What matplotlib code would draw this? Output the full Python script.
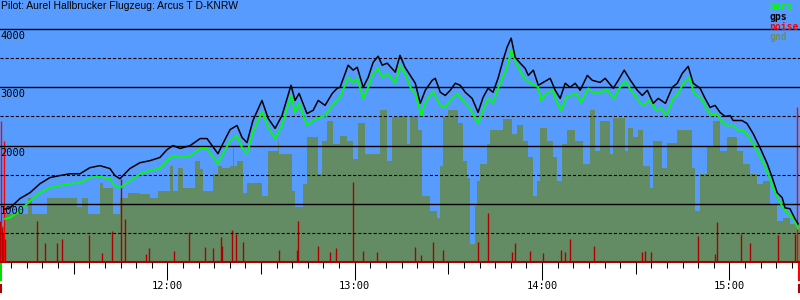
import numpy as np
import matplotlib.pyplot as plt

# Zeit in Minuten nach 11:00, Hoehe in m
gps_min = [8.0, 9.6, 12.8, 16.0, 19.2, 22.4, 25.6, 28.8, 32.0, 35.2, 38.4, 41.6, 43.2, 44.8, 48.0, 51.2, 54.4, 57.6, 59.9, 61.8,
           64.1, 67.3, 70.5, 72.7, 74.3, 76.2, 77.8, 80.1, 82.3, 83.9, 85.5, 87.4, 90.3, 92.3, 94.5, 96.7, 99.6, 100.9, 102.2, 104.7,
           106.7, 108.3, 110.5, 112.8, 114.4, 115.3, 117.9, 119.5, 120.8, 122.7, 124.3, 125.9, 127.5, 128.8, 130.4, 133.0, 134.5, 136.1,
           137.8, 139.4, 141.0, 142.6, 144.8, 145.8, 147.4, 149.0, 150.6, 152.2, 153.8, 155.4, 157.6, 159.5, 161.1, 162.7, 164.3, 165.9,
           167.5, 168.8, 170.1, 171.4, 173.0, 174.6, 175.6, 177.2, 178.8, 180.4, 182.6, 184.2, 185.8, 187.4, 189.0, 190.6, 192.2, 194.5,
           196.1, 198.6, 200.2, 202.8, 204.4, 206.3, 208.3, 210.5, 212.1, 213.7, 215.6, 217.2, 219.5, 221.7, 223.3, 224.9, 226.8, 228.4,
           230.6, 232.2, 233.8, 235.4, 237.0, 238.6, 240.2, 241.2, 244.0, 245.6, 247.6, 249.8, 252.1, 253.7, 255.3, 256.9, 257.8, 259.4,
           261.0, 262.0]
gps_alt = [910, 930, 1090, 1190, 1345, 1450, 1485, 1515, 1515, 1620, 1655, 1605, 1485, 1430, 1605, 1705, 1740, 1795, 1930, 2000,
           1950, 2000, 2120, 2120, 2000, 1860, 2035, 2275, 2345, 2140, 2050, 2430, 2775, 2465, 2295, 2515, 3035, 2775, 2895, 2550,
           2605, 2775, 2690, 2895, 2985, 3000, 3380, 3295, 3345, 3000, 3170, 3430, 3535, 3380, 3415, 3260, 3550, 3345,
           3205, 3070, 2725, 2950, 3120, 3155, 2915, 2860, 2950, 3070, 3035, 2915, 2810, 2570, 2825, 2985, 2915, 3155,
           3465, 3690, 3845, 3515, 3415, 3325, 3205, 3295, 3035, 3085, 3155, 2950, 2810, 3070, 3000, 3070, 2950, 3205,
           3120, 3085, 3155, 2985, 3120, 3295, 3120, 2950, 2860, 2950, 2725, 2810, 2725, 3000, 3070, 3240, 3360, 3070,
           2985, 2810, 2655, 2690, 2570, 2500, 2515, 2430, 2430, 2380, 2205, 1965, 1690, 1450, 1190, 1105, 930, 915,
           740, 655]

baro_min = [8.0, 9.6, 12.8, 16.0, 19.2, 22.4, 25.6, 28.8, 32.0, 35.2, 38.4, 41.6, 43.2, 44.8, 48.0, 51.2, 54.4, 57.6, 59.9, 61.8,
            64.1, 67.3, 70.5, 72.7, 74.3, 76.2, 77.8, 80.1, 82.3, 83.9, 85.5, 87.4, 90.3, 92.3, 94.5, 96.7, 99.6, 100.9, 102.2, 104.7,
            106.7, 109.0, 110.5, 112.8, 115.3, 117.9, 119.5, 120.8, 122.7, 124.3, 125.9, 127.5, 128.8, 130.4, 133.0, 134.5, 136.1, 137.8,
            139.4, 141.3, 142.6, 145.1, 147.4, 149.0, 150.6, 152.8, 154.7, 156.9, 159.5, 161.1, 162.7, 164.3, 165.9, 168.5, 170.1, 171.7,
            173.3, 174.9, 176.5, 178.8, 179.7, 181.3, 183.5, 184.5, 186.1, 187.7, 189.3, 190.9, 192.5, 194.8, 196.4, 199.0, 200.6, 203.1,
            204.7, 206.6, 208.5, 210.8, 212.4, 214.3, 216.6, 218.2, 219.8, 222.0, 223.6, 225.2, 227.1, 228.7, 231.0, 232.6, 234.2, 235.8,
            237.4, 239.0, 241.2, 242.8, 244.4, 246.0, 247.9, 250.2, 252.4, 254.0, 255.6, 257.2, 258.8, 260.4, 262.0]
baro_alt = [740, 760, 880, 1050, 1190, 1275, 1310, 1345, 1360, 1450, 1465, 1430, 1310, 1275, 1395, 1515, 1570, 1605, 1740, 1825,
            1795, 1825, 1950, 1950, 1825, 1690, 1860, 2085, 2170, 1965, 1860, 2225, 2585, 2310, 2120, 2345, 2860, 2570, 2725, 2345,
            2430, 2485, 2515, 2690, 2825, 3170, 3085, 3155, 2810, 3000, 3240, 3325, 3170, 3240, 3070, 3380, 3240, 3000,
            2895, 2515, 2740, 2930, 2690, 2655, 2775, 2895, 2775, 2640, 2380, 2605, 2810, 2725, 2985, 3295, 3640, 3415,
            3240, 3120, 3070, 3000, 2775, 2895, 2950, 2775, 2605, 2825, 2860, 2895, 2740, 2985, 2895, 2915, 2965, 2810,
            2985, 3105, 2950, 2775, 2690, 2775, 2605, 2640, 2515, 2810, 2895, 3070, 3170, 2895, 2810, 2640, 2515, 2550,
            2430, 2345, 2345, 2260, 2260, 2170, 2000, 1775, 1515, 1275, 1085, 930, 830, 760, 570]

gnd_min = [6.4, 8.0, 15.4, 16.6, 21.5, 31.1, 32.7, 34.6, 38.4, 39.4, 42.6, 44.8, 47.4, 51.2, 54.4, 57.0, 60.9, 61.8, 63.4, 65.0,
           68.9, 70.5, 71.4, 74.6, 76.2, 77.5, 80.1, 81.0, 81.4, 82.3, 84.2, 85.5, 90.3, 92.2, 95.4, 95.8, 99.9, 100.9, 103.5, 104.7,
           108.3, 109.5, 111.1, 113.1, 115.3, 117.5, 119.5, 121.1, 123.3, 128.1, 130.4, 132.0, 134.5, 136.8, 137.7, 140.3, 141.6, 144.1,
           146.4, 147.3, 148.3, 149.9, 153.1, 154.7, 156.0, 156.9, 158.5, 159.2, 160.1, 162.4, 163.3, 167.5, 170.4, 172.0, 173.9, 175.5,
           177.1, 178.4, 179.4, 181.6, 183.5, 184.8, 186.4, 188.0, 190.6, 193.1, 195.4, 197.0, 198.6, 201.8, 202.7, 206.6, 207.5, 209.2,
           210.8, 212.4, 214.6, 215.6, 218.4, 220.0, 223.2, 228.0, 229.0, 230.6, 232.9, 234.8, 237.0, 239.3, 242.5, 244.4, 246.6, 248.9,
           250.8, 253.0, 255.3, 257.2, 259.4, 261.7]
gnd_alt = [620, 830, 1105, 830, 1105, 950, 1105, 830, 1360, 1275, 830, 1105, 1190, 1170, 1105, 1225, 1655, 1225, 1620, 1275,
           1740, 1605, 1225, 1515, 1655, 1620, 1655, 1965, 1655, 1740, 1190, 1360, 1140, 1915, 2085, 1860, 1225, 950, 1345, 2140,
           1515, 2085, 2430, 2035, 2170, 2085, 1775, 2380, 1860, 2605, 1740, 2485, 2515, 2035, 2485, 2260, 1140, 880,
           760, 1655, 2485, 2605, 2380, 1740, 1450, 310, 965, 1395, 1690, 2035, 2260, 2450, 2205, 2345, 2085, 1795,
           1140, 1395, 2310, 2085, 1795, 1395, 2035, 2260, 2085, 1690, 2605, 1915, 2430, 1860, 2465, 1915, 2310, 2140,
           2260, 1655, 1275, 2085, 1620, 2050, 2260, 1620, 880, 1515, 2000, 2430, 1915, 2140, 1915, 1690, 1515, 1345,
           1395, 1000, 705, 760, 655, 585]
gnd_end = 262.6

noise_min = [6.4, 7.0, 7.4, 8.0, 18.2, 20.8, 24.7, 26.3, 34.9, 39.1, 42.3, 45.2, 46.4, 53.2, 54.1, 62.1, 66.9, 72.1, 74.6, 77.2,
             77.5, 80.7, 82.0, 84.2, 95.8, 101.5, 101.8, 108.3, 112.1, 114.0, 119.5, 122.7, 127.2, 139.3, 141.2, 145.1, 148.3, 159.5,
             162.7, 170.4, 171.4, 176.2, 180.3, 186.1, 187.4, 189.0, 196.7, 212.0, 213.0, 214.9, 230.0, 235.4, 236.1, 243.7, 246.6,
             255.6, 261.0]
noise_val = [700, 600, 500, 400, 705, 330, 330, 395, 465, 155, 535, 1430, 740, 140, 240, 190, 515, 260, 240, 430,
             275, 550, 485, 345, 205, 205, 705, 275, 170, 240, 1380, 190, 170, 260, 120, 345, 205, 345,
             845, 170, 330, 190, 155, 205, 170, 395, 275, 170, 190, 170, 450, 140, 690, 485, 330,
             465, 485]
loud_min = [6.7, 7.7, 261.7]
loud_val = [2430, 2085, 2670]

start_min, end_min = 6.6, 262.2

title = "Pilot: Aurel Hallbrucker Flugzeug: Arcus T D-KNRW"
names = ["baro", "gps", "noise", "gnd"]
name_cols = ["#00ff00", "black", "#ff0000", "#6e8c5f"]
hour_min = [60, 120, 180, 240]
hour_labels = ["12:00", "13:00", "14:00", "15:00"]
alt_labels = [1000, 2000, 3000, 4000]
alt_dashed = [500, 1500, 2500, 3500]

BG = "#589bff"
GND = "#648c64"
MONO = "DejaVu Sans Mono"


def h(m):
    return 11 + np.asarray(m, dtype=float) / 60.0


fig = plt.figure(figsize=(8, 3), dpi=100)
ax = fig.add_axes([0, 38 / 300, 1, 262 / 300])
ax.set_facecolor(BG)

ax.fill_between(h(gnd_min + [gnd_end]), gnd_alt + [gnd_alt[-1]], step="post",
                color=GND, lw=0, zorder=1)
ax.vlines(h(noise_min), 0, noise_val, color="#aa0000", lw=1, zorder=2)
ax.vlines(h(loud_min), 0, loud_val, color="#ff0000", lw=1, zorder=2)
ax.plot(h(baro_min), baro_alt, color="#00ff00", lw=1.3, zorder=3)
ax.plot(h(gps_min), gps_alt, color="black", lw=1.1, zorder=4)

ax.set_xlim(h(6.4), h(262.6))
ax.set_ylim(0, 4500)

# grid
ax.set_yticks(alt_labels)
ax.set_yticks(alt_dashed, minor=True)
ax.set_yticklabels([])
ax.tick_params(axis="y", which="both", length=0)
ax.yaxis.grid(True, which="major", color="black", lw=1.0, ls="-")
ax.yaxis.grid(True, which="minor", color="black", lw=0.8, ls=(0, (2.8, 1.8)))
ax.set_axisbelow(False)
for v in alt_labels:
    ax.annotate(str(v), (0, v), xycoords=("axes fraction", "data"), xytext=(0, -2),
                textcoords="offset pixels", ha="left", va="top", fontsize=7.5,
                family=MONO, color="black", zorder=5)

# x ticks
ax.set_xticks(h(hour_min), hour_labels)
ax.set_xticks(h(np.arange(10, 262, 5)), minor=True)
ax.tick_params(axis="x", which="major", length=13, width=0.75, pad=1, labelsize=7.5)
ax.tick_params(axis="x", which="minor", length=4.3, width=0.75)
for lab in ax.get_xticklabels():
    lab.set_family(MONO)
sec = ax.secondary_xaxis("bottom")
sec.set_xticks(h([30, 90, 150, 210]))
sec.tick_params(length=8.6, width=0.75, labelbottom=False)
sec.spines["bottom"].set_visible(False)

for s in ["top", "left", "right"]:
    ax.spines[s].set_visible(False)
ax.spines["bottom"].set_color("#aa0000")
ax.spines["bottom"].set_linewidth(1.5)

# start / end markers under the axis
tr = ax.get_xaxis_transform()
ax.plot(h([start_min, start_min]), [0, -18 / 262], color="#00dd00", lw=1.5, transform=tr, clip_on=False)
ax.plot(h([start_min, start_min]), [-23 / 262, -30 / 262], color="#aa0000", lw=1.5, transform=tr, clip_on=False)
ax.plot(h([end_min, end_min]), [0, -18 / 262], color="#ff0000", lw=1.5, transform=tr, clip_on=False)
ax.plot(h([end_min, end_min]), [-23 / 262, -30 / 262], color="#aa0000", lw=1.5, transform=tr, clip_on=False)

fig.text(1 / 800, 1 - 1 / 300, title, fontsize=7.5, family="Liberation Sans", ha="left", va="top")
for i, (n, c) in enumerate(zip(names, name_cols)):
    fig.text(769 / 800, 1 - (2 + 10 * i) / 300, n, color=c, fontsize=7, family=MONO,
             fontweight="bold", ha="left", va="top")

fig.savefig("out.png", dpi=100)
